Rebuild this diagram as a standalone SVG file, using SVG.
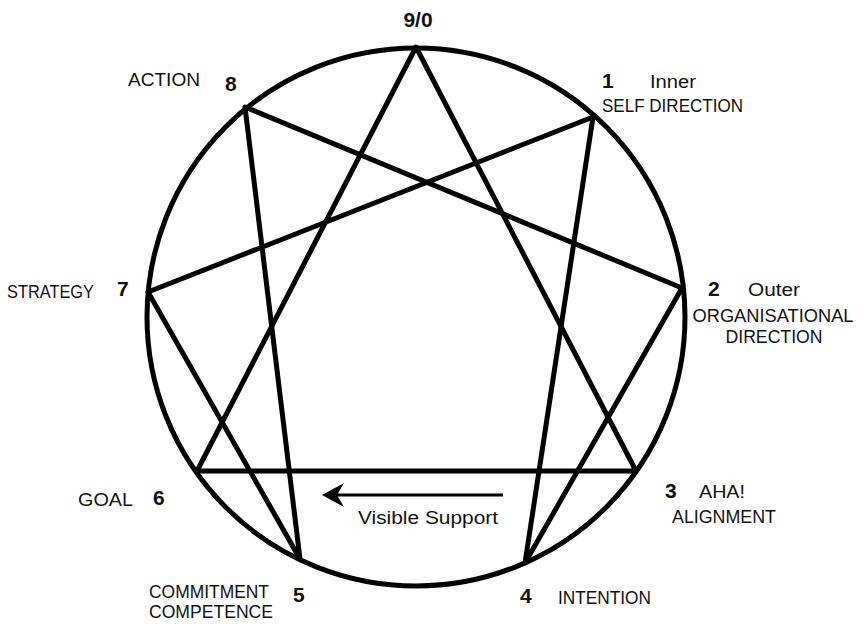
<svg xmlns="http://www.w3.org/2000/svg" width="865" height="624" viewBox="0 0 865 624">
<style>
.lbl{font-family:"Liberation Sans",Arial,sans-serif;font-size:17.5px;fill:#111}
.num{font-family:"Liberation Sans",Arial,sans-serif;font-size:21px;font-weight:bold;fill:#111}
.edge{stroke:#000;stroke-width:5;fill:none;stroke-linecap:round;stroke-linejoin:round}
</style>
<rect width="865" height="624" fill="#fff"/>
<g id="circle"><circle cx="416" cy="317" r="269" fill="none" stroke="#000" stroke-width="5"/></g>
<g id="connectors">
<polygon class="edge" points="416,47 636,471 197,471"/>
<polygon class="edge" points="593,117 525,563 682,288 245,107 300,559 148,292"/>
</g>
<g id="arrow">
<line x1="503" y1="495" x2="334" y2="495" stroke="#000" stroke-width="3"/>
<polygon points="322,495 344,483 337,495 344,507" fill="#000"/>
<text class="lbl" x="428" y="524" text-anchor="middle" textLength="140" lengthAdjust="spacingAndGlyphs" font-size="17">Visible Support</text>
</g>
<g id="n9"><text class="num" x="418" y="27" text-anchor="middle" font-size="23">9/0</text></g>
<g id="n1"><text class="num" x="602" y="88">1</text><text class="lbl" x="650" y="88" textLength="46" lengthAdjust="spacingAndGlyphs">Inner</text><text class="lbl" x="602" y="112" textLength="141" lengthAdjust="spacingAndGlyphs">SELF DIRECTION</text></g>
<g id="n2"><text class="num" x="708" y="296">2</text><text class="lbl" x="748" y="296" textLength="52" lengthAdjust="spacingAndGlyphs">Outer</text><text class="lbl" x="773" y="322" text-anchor="middle" textLength="161" lengthAdjust="spacingAndGlyphs">ORGANISATIONAL</text><text class="lbl" x="774" y="343" text-anchor="middle" textLength="97" lengthAdjust="spacingAndGlyphs">DIRECTION</text></g>
<g id="n3"><text class="num" x="665" y="498">3</text><text class="lbl" x="699" y="498" textLength="46" lengthAdjust="spacingAndGlyphs">AHA!</text><text class="lbl" x="724" y="523" text-anchor="middle" textLength="104" lengthAdjust="spacingAndGlyphs">ALIGNMENT</text></g>
<g id="n4"><text class="num" x="520" y="603">4</text><text class="lbl" x="558" y="604" textLength="93" lengthAdjust="spacingAndGlyphs">INTENTION</text></g>
<g id="n5"><text class="num" x="293" y="602">5</text><text class="lbl" x="149" y="598" textLength="120" lengthAdjust="spacingAndGlyphs">COMMITMENT</text><text class="lbl" x="149" y="618" textLength="124" lengthAdjust="spacingAndGlyphs">COMPETENCE</text></g>
<g id="n6"><text class="num" x="153" y="505">6</text><text class="lbl" x="78" y="506" textLength="55" lengthAdjust="spacingAndGlyphs">GOAL</text></g>
<g id="n7"><text class="num" x="117" y="296">7</text><text class="lbl" x="7" y="298" textLength="87" lengthAdjust="spacingAndGlyphs">STRATEGY</text></g>
<g id="n8"><text class="num" x="225" y="91">8</text><text class="lbl" x="128" y="86" textLength="72" lengthAdjust="spacingAndGlyphs">ACTION</text></g>
</svg>
